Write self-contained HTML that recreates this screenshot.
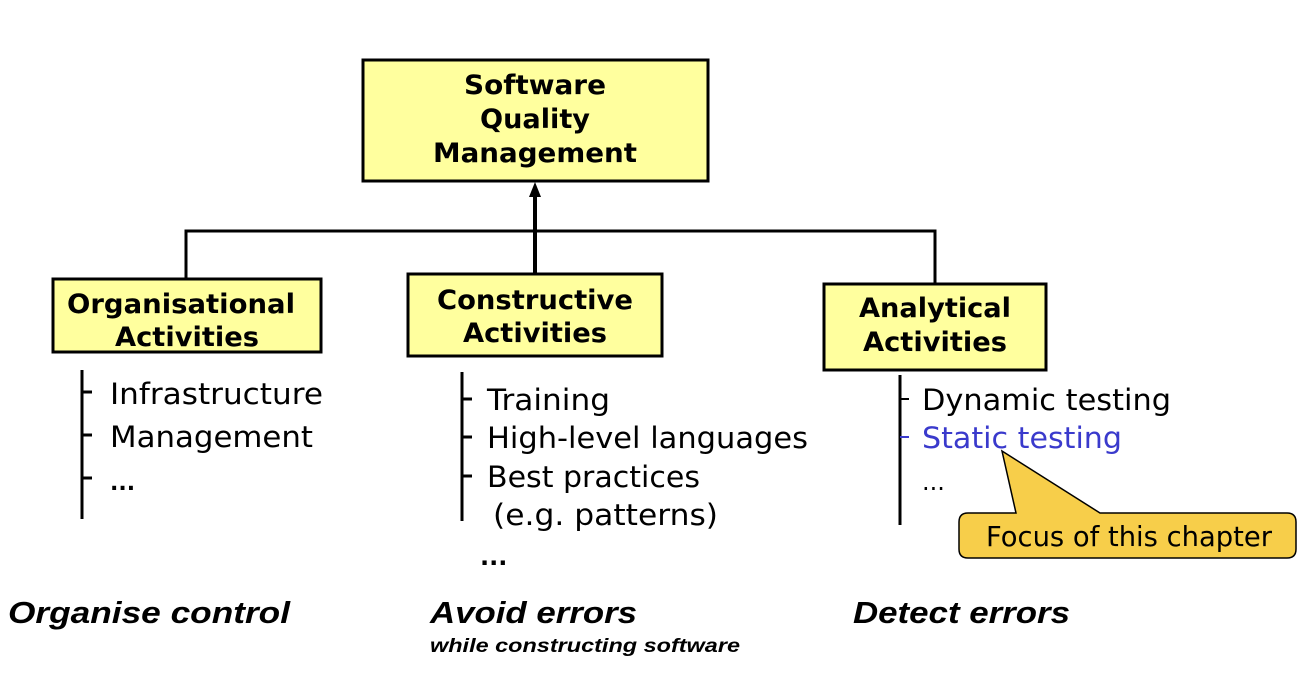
<!DOCTYPE html>
<html><head><meta charset="utf-8"><style>html,body{margin:0;padding:0;background:#fff}svg{display:block}</style></head>
<body>
<svg width="1298" height="678" viewBox="0 0 1298 678" xmlns="http://www.w3.org/2000/svg">
<g stroke="#000" stroke-width="3" fill="none">
<polyline points="186,278 186,231 935,231 935,283"/>
<line x1="535" y1="273" x2="535" y2="195" stroke-width="4"/>
</g>
<polygon points="535,182 529,197 541,197" fill="#000"/>
<g fill="#ffff9e" stroke="#000" stroke-width="3">
<rect x="363" y="60" width="345" height="121"/>
<rect x="53" y="279" width="268" height="73"/>
<rect x="408" y="274" width="254" height="82"/>
<rect x="824" y="284" width="222" height="86"/>
</g>
<g font-family="DejaVu Sans, sans-serif" font-weight="bold" font-size="27" text-anchor="middle" fill="#000">
<text x="535" y="94" textLength="142" lengthAdjust="spacingAndGlyphs">Software</text>
<text x="535" y="128" textLength="110" lengthAdjust="spacingAndGlyphs">Quality</text>
<text x="535" y="162" textLength="204" lengthAdjust="spacingAndGlyphs">Management</text>
<text x="181" y="313" textLength="228" lengthAdjust="spacingAndGlyphs">Organisational</text>
<text x="187" y="346" textLength="144" lengthAdjust="spacingAndGlyphs">Activities</text>
<text x="535" y="309" textLength="196" lengthAdjust="spacingAndGlyphs">Constructive</text>
<text x="535" y="342" textLength="144" lengthAdjust="spacingAndGlyphs">Activities</text>
<text x="935" y="317" textLength="152" lengthAdjust="spacingAndGlyphs">Analytical</text>
<text x="935" y="351" textLength="144" lengthAdjust="spacingAndGlyphs">Activities</text>
</g>
<g stroke="#000" stroke-width="3">
<line x1="82" y1="370" x2="82" y2="519"/>
<line x1="82" y1="392" x2="92" y2="392"/>
<line x1="82" y1="435" x2="92" y2="435"/>
<line x1="82" y1="478" x2="92" y2="478"/>
<line x1="462" y1="372" x2="462" y2="521"/>
<line x1="462" y1="399" x2="472" y2="399"/>
<line x1="462" y1="437" x2="472" y2="437"/>
<line x1="462" y1="476" x2="472" y2="476"/>
<line x1="900" y1="375" x2="900" y2="525"/>
<line x1="900" y1="399" x2="909" y2="399" stroke-width="2"/>
</g>
<line x1="900" y1="437" x2="909" y2="437" stroke="#3a3acc" stroke-width="2"/>
<g font-family="DejaVu Sans, sans-serif" font-size="29" fill="#000">
<text x="110" y="404" textLength="213" lengthAdjust="spacingAndGlyphs">Infrastructure</text>
<text x="110" y="447" textLength="203" lengthAdjust="spacingAndGlyphs">Management</text>
<text x="110" y="490" font-weight="bold" font-size="22">...</text>
<text x="487" y="410" textLength="123" lengthAdjust="spacingAndGlyphs">Training</text>
<text x="487" y="448" textLength="321" lengthAdjust="spacingAndGlyphs">High-level languages</text>
<text x="487" y="487" textLength="213" lengthAdjust="spacingAndGlyphs">Best practices</text>
<text x="493" y="525" textLength="225" lengthAdjust="spacingAndGlyphs">(e.g. patterns)</text>
<text x="480" y="565" font-weight="bold" font-size="24">...</text>
<text x="922" y="410" textLength="249" lengthAdjust="spacingAndGlyphs">Dynamic testing</text>
<text x="922" y="448" fill="#3a3acc" textLength="200" lengthAdjust="spacingAndGlyphs">Static testing</text>
<text x="922" y="490" font-size="24">...</text>
</g>
<path d="M1002,451 L1100,513 L1287,513 Q1296,513 1296,522 L1296,549 Q1296,558 1287,558 L968,558 Q959,558 959,549 L959,522 Q959,513 968,513 L1016,513 Z" fill="#f7ce4a" stroke="#000" stroke-width="1.5"/>
<text x="1129" y="546" font-family="DejaVu Sans, sans-serif" font-size="28" text-anchor="middle" textLength="286" lengthAdjust="spacingAndGlyphs">Focus of this chapter</text>
<g font-family="Liberation Sans, sans-serif" font-weight="bold" font-style="italic" fill="#000">
<text x="8" y="623" font-size="31" textLength="282" lengthAdjust="spacingAndGlyphs">Organise control</text>
<text x="430" y="623" font-size="31" textLength="207" lengthAdjust="spacingAndGlyphs">Avoid errors</text>
<text x="430" y="652" font-size="19" textLength="310" lengthAdjust="spacingAndGlyphs">while constructing software</text>
<text x="853" y="623" font-size="31" textLength="217" lengthAdjust="spacingAndGlyphs">Detect errors</text>
</g>
</svg>
</body></html>
